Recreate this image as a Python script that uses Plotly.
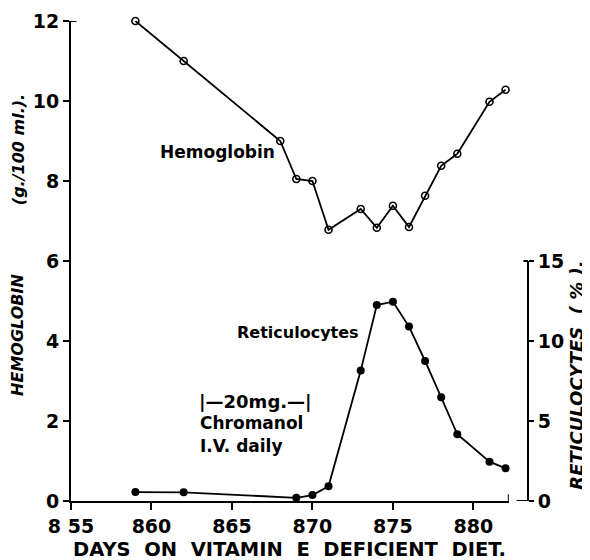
import plotly.graph_objects as go

# ---- data ----
hgb_days = [859, 862, 868, 869, 870, 871, 873, 874, 875, 876, 877, 878, 879, 881, 882]
hgb_vals = [12.0, 11.0, 9.0, 8.05, 8.0, 6.78, 7.3, 6.83, 7.38, 6.85, 7.63, 8.38, 8.68, 9.98, 10.28]

ret_days = [859, 862, 869, 870, 871, 873, 874, 875, 876, 877, 878, 879, 881, 882]
ret_vals = [0.56, 0.54, 0.2, 0.37, 0.92, 8.15, 12.25, 12.46, 10.9, 8.75, 6.48, 4.17, 2.46, 2.04]

x_ticks = [855, 860, 865, 870, 875, 880]
x_tick_text = ["8 55", "860", "865", "870", "875", "880"]
hgb_ticks = [0, 2, 4, 6, 8, 10, 12]
ret_ticks = [0, 5, 10, 15]

FONT = "DejaVu Sans"
BLACK = "#000000"

fig = go.Figure()
fig.add_trace(go.Scatter(
    x=hgb_days, y=hgb_vals, mode="lines+markers", name="Hemoglobin",
    line=dict(color=BLACK, width=1.8),
    marker=dict(symbol="circle-open", size=7, color=BLACK, line=dict(width=1.6, color=BLACK)),
    cliponaxis=False, xaxis="x", yaxis="y", showlegend=False,
))
fig.add_trace(go.Scatter(
    x=ret_days, y=ret_vals, mode="lines+markers", name="Reticulocytes",
    line=dict(color=BLACK, width=1.8),
    marker=dict(symbol="circle", size=8, color=BLACK),
    cliponaxis=False, xaxis="x", yaxis="y2", showlegend=False,
))

tick_font = dict(family=FONT, size=19, color=BLACK, weight="bold")

# the page body adds an 8px offset, so the figure is 8px smaller than the window
fig.update_layout(
    width=582, height=552,
    margin=dict(l=63, r=62, t=13, b=59, autoexpand=False),
    paper_bgcolor="white", plot_bgcolor="white",
    xaxis=dict(
        domain=[0, 0.958], range=[855, 882.2], automargin=False,
        showline=True, linecolor=BLACK, linewidth=2,
        ticks="outside", ticklen=7, tickwidth=2, tickcolor=BLACK,
        tickvals=x_ticks, ticktext=x_tick_text, tickfont=tick_font,
        showgrid=False, zeroline=False, anchor="y",
    ),
    yaxis=dict(
        range=[0, 12], domain=[0, 1], automargin=False,
        showline=True, linecolor=BLACK, linewidth=2,
        ticks="outside", ticklen=6, tickwidth=2, tickcolor=BLACK,
        tickvals=hgb_ticks, tickfont=tick_font,
        showgrid=False, zeroline=False, anchor="x",
    ),
    yaxis2=dict(
        range=[0, 15], domain=[0, 0.5], automargin=False,
        anchor="free", position=1.0, side="right",
        showline=True, linecolor=BLACK, linewidth=2,
        ticks="outside", ticklen=5, tickwidth=2, tickcolor=BLACK,
        tickvals=ret_ticks, tickfont=tick_font,
        showgrid=False, zeroline=False,
    ),
)

# small axis-end decorations seen in the reference
fig.add_shape(type="line", xref="x", yref="y", x0=882.2, x1=882.2, y0=-0.17, y1=0.17,
              line=dict(color=BLACK, width=2))
fig.add_shape(type="line", xref="paper", yref="y", x0=0.975, x1=1.0, y0=0, y1=0,
              line=dict(color=BLACK, width=2))
fig.add_shape(type="line", xref="paper", yref="y", x0=0.99, x1=1.0, y0=6, y1=6,
              line=dict(color=BLACK, width=2))
fig.add_shape(type="line", xref="paper", yref="y", x0=-0.012, x1=0.012, y0=12, y1=12,
              line=dict(color=BLACK, width=2))

def label(text, x, y, size, xanchor="center", xref="x", yref="y", angle=0, italic=False):
    fig.add_annotation(
        text=text, x=x, y=y, xref=xref, yref=yref, showarrow=False,
        xanchor=xanchor, yanchor="middle", textangle=angle,
        font=dict(family=FONT, size=size, color=BLACK, weight="bold",
                  style="italic" if italic else "normal"),
    )

# in-plot labels
label("Hemoglobin", 864.1, 8.73, 17)
label("Reticulocytes", 869.1, 4.22, 16)
label("|—20mg.—|", 862.8, 2.5, 18, xanchor="left")
label("Chromanol", 862.9, 1.95, 17, xanchor="left")
label("I.V. daily", 862.9, 1.37, 17, xanchor="left")

# axis titles
label("DAYS  ON  VITAMIN  E  DEFICIENT  DIET.", 0.479, -0.1, 19.5, xref="paper", yref="paper")
label("HEMOGLOBIN", -0.116, 0.346, 16, xref="paper", yref="paper", angle=-90, italic=True)
label("(g./100 ml.).", -0.116, 0.733, 16, xref="paper", yref="paper", angle=-90, italic=True)
label("RETICULOCYTES  ( % ).", 1.106, 0.262, 18, xref="paper", yref="paper", angle=-90, italic=True)

fig.write_html("out.html")
